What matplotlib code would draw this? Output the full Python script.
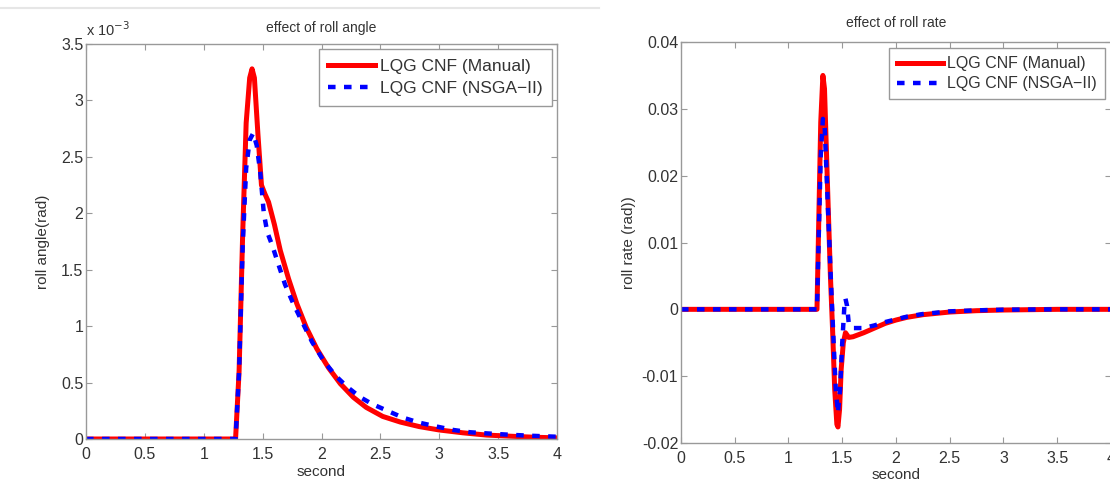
import matplotlib
matplotlib.use("Agg")
import matplotlib.pyplot as plt
from matplotlib.lines import Line2D

plt.rcParams["font.family"] = ["Liberation Sans", "DejaVu Sans"]

# ---------------------------------
# Data
# ---------------------------------

# roll angle (units of 1e-3 rad)
t_angle_manual = [0, 1.27, 1.30, 1.33, 1.36, 1.39, 1.41, 1.43, 1.46, 1.49, 1.52,
                  1.55, 1.60, 1.65, 1.72, 1.79, 1.87, 1.96, 2.06, 2.16, 2.27,
                  2.38, 2.52, 2.67, 2.83, 3.0, 3.2, 3.4, 3.6, 3.8, 4.0]
angle_manual = [0, 0, 0.6, 1.8, 2.8, 3.2, 3.28, 3.2, 2.7, 2.25, 2.17,
                2.1, 1.9, 1.67, 1.42, 1.2, 0.99, 0.80, 0.63, 0.49, 0.37,
                0.28, 0.20, 0.15, 0.11, 0.08, 0.055, 0.035, 0.025, 0.016, 0.01]

t_angle_nsga = [0, 1.27, 1.30, 1.33, 1.36, 1.39, 1.42, 1.45, 1.48, 1.51, 1.54,
                1.58, 1.63, 1.69, 1.76, 1.83, 1.92, 2.02, 2.12, 2.22, 2.33,
                2.43, 2.56, 2.69, 2.83, 2.98, 3.12, 3.26, 3.4, 3.56, 3.75, 4.0]
angle_nsga = [0, 0, 0.6, 1.7, 2.4, 2.65, 2.71, 2.6, 2.36, 2.0, 1.83,
              1.72, 1.56, 1.37, 1.2, 1.05, 0.86, 0.69, 0.56, 0.46, 0.37,
              0.31, 0.25, 0.19, 0.145, 0.11, 0.08, 0.06, 0.05, 0.04, 0.03, 0.02]

# roll rate (rad)
t_rate_manual = [0, 1.265, 1.28, 1.30, 1.32, 1.335, 1.36, 1.39, 1.41, 1.43, 1.45,
                 1.46, 1.475, 1.49, 1.51, 1.53, 1.56, 1.6, 1.7, 1.8, 1.9,
                 2.0, 2.1, 2.25, 2.5, 2.75, 3.0, 3.5, 4.0]
rate_manual = [0, 0, 0.012, 0.028, 0.035, 0.033, 0.02, 0.005, -0.003, -0.012, -0.0172,
               -0.0176, -0.015, -0.009, -0.005, -0.0035, -0.0042, -0.0041, -0.0035, -0.0028, -0.0021,
               -0.0016, -0.0012, -0.0008, -0.0004, -0.0002, -0.0001, 0, 0]

t_rate_nsga = [0, 1.265, 1.28, 1.30, 1.32, 1.335, 1.36, 1.39, 1.42, 1.44, 1.46,
               1.48, 1.50, 1.52, 1.53, 1.545, 1.56, 1.6, 1.7, 1.8, 1.9,
               2.0, 2.1, 2.25, 2.5, 2.75, 3.0, 3.5, 4.0]
rate_nsga = [0, 0, 0.01, 0.023, 0.0285, 0.028, 0.018, 0.006, -0.005, -0.012, -0.0155,
             -0.012, -0.005, 0.0005, 0.0016, 0.0005, -0.002, -0.0028, -0.0028, -0.0024, -0.0019,
             -0.0015, -0.0011, -0.0007, -0.0003, -0.00015, -0.00005, 0, 0]

x_ticks = [0, 0.5, 1, 1.5, 2, 2.5, 3, 3.5, 4]
x_tick_labels = ["0", "0.5", "1", "1.5", "2", "2.5", "3", "3.5", "4"]
angle_ticks = [0, 0.5, 1, 1.5, 2, 2.5, 3, 3.5]
angle_tick_labels = ["0", "0.5", "1", "1.5", "2", "2.5", "3", "3.5"]
rate_ticks = [-0.02, -0.01, 0, 0.01, 0.02, 0.03, 0.04]
rate_tick_labels = ["-0.02", "-0.01", "0", "0.01", "0.02", "0.03", "0.04"]

label_manual = "LQG CNF (Manual)"
label_nsga = "LQG CNF (NSGA\u2212II)"

text_color = "#333333"
spine_color = "#999999"
dash_style = (0, (1.7, 1.9))

# ---------------------------------
# Figure
# ---------------------------------

fig = plt.figure(figsize=(11.10, 4.88), dpi=100)

ax1 = fig.add_axes([0.0775, 0.1004, 0.4243, 0.8094])
ax2 = fig.add_axes([0.6135, 0.0922, 0.3874, 0.8217])

# faint window border line at the top left
fig.add_artist(Line2D([0, 0.54], [0.984, 0.984], transform=fig.transFigure,
                      color="#e6e6e6", linewidth=1.5))


def style_axes(ax):
    for s in ax.spines.values():
        s.set_color(spine_color)
        s.set_linewidth(1.0)
    ax.tick_params(direction="in", top=True, right=True, length=4,
                   color=spine_color, labelcolor=text_color, labelsize=11.5)
    ax.tick_params(axis="x", pad=6)
    ax.tick_params(axis="y", pad=2)


def style_legend(leg):
    leg.get_frame().set_edgecolor(spine_color)
    leg.get_frame().set_linewidth(1.0)
    for txt in leg.get_texts():
        txt.set_color(text_color)


# ---------------------------------
# Left: roll angle
# ---------------------------------

ax1.plot(t_angle_manual, angle_manual, color="red", linewidth=3.6,
         label=label_manual, solid_joinstyle="round")
ax1.plot(t_angle_nsga, angle_nsga, color="blue", linewidth=3.2,
         linestyle=dash_style, label=label_nsga)

ax1.set_xlim(0, 4)
ax1.set_ylim(0, 3.5)
ax1.set_xticks(x_ticks)
ax1.set_xticklabels(x_tick_labels)
ax1.set_yticks(angle_ticks)
ax1.set_yticklabels(angle_tick_labels)
style_axes(ax1)

ax1.set_title("effect of roll angle", fontsize=10, color=text_color, pad=9)
ax1.set_xlabel("second", fontsize=11, color=text_color, labelpad=2)
ax1.set_ylabel("roll angle(rad)", fontsize=11, color=text_color, labelpad=8)
ax1.text(0.0, 1.012, "x 10$^{-3}$", transform=ax1.transAxes,
         fontsize=10.5, color=text_color, ha="left", va="bottom")

leg1 = ax1.legend(loc="upper right", fontsize=12.5, handlelength=2.7,
                  handletextpad=0.25, borderpad=0.55, labelspacing=0.4,
                  borderaxespad=0.3, fancybox=False, framealpha=1)
style_legend(leg1)

# ---------------------------------
# Right: roll rate
# ---------------------------------

ax2.plot(t_rate_manual, rate_manual, color="red", linewidth=3.6,
         label=label_manual, solid_joinstyle="round")
ax2.plot(t_rate_nsga, rate_nsga, color="blue", linewidth=3.2,
         linestyle=dash_style, label=label_nsga)

ax2.set_xlim(0, 4)
ax2.set_ylim(-0.02, 0.04)
ax2.set_xticks(x_ticks)
ax2.set_xticklabels(x_tick_labels)
ax2.set_yticks(rate_ticks)
ax2.set_yticklabels(rate_tick_labels)
style_axes(ax2)

ax2.set_title("effect of roll rate", fontsize=10, color=text_color, pad=11)
ax2.set_xlabel("second", fontsize=11, color=text_color, labelpad=1)
ax2.set_ylabel("roll rate (rad))", fontsize=11, color=text_color, labelpad=4)

leg2 = ax2.legend(loc="upper right", fontsize=11.5, handlelength=2.9,
                  handletextpad=0.25, borderpad=0.5, labelspacing=0.3,
                  borderaxespad=0.4, fancybox=False, framealpha=1)
style_legend(leg2)

fig.savefig("out.png", dpi=100)
